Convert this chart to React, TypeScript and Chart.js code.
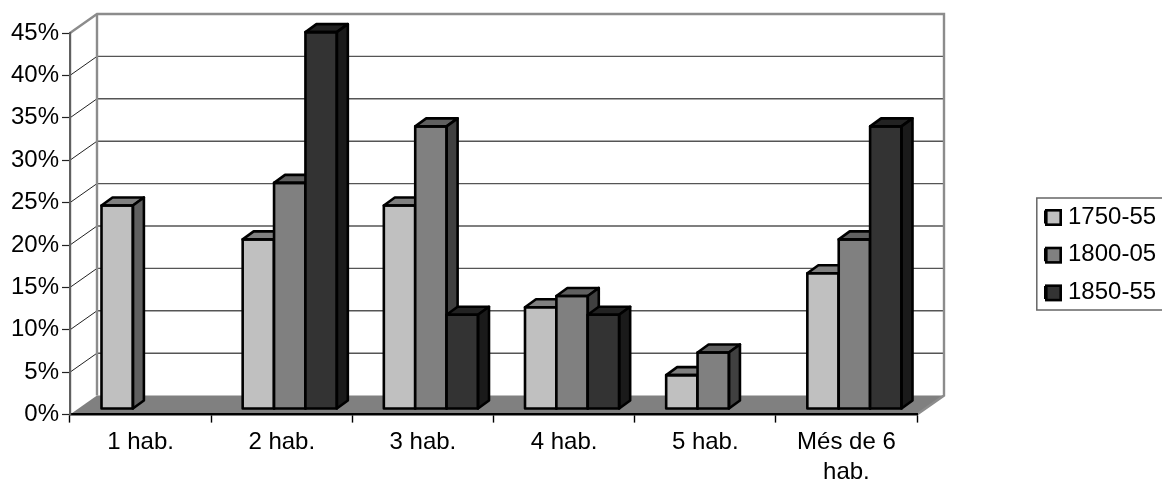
import React, { useEffect, useRef } from "react";
import { Chart, registerables } from "chart.js";

Chart.register(...registerables);

const categories: (string | string[])[] = ["1 hab.", "2 hab.", "3 hab.", "4 hab.", "5 hab.", ["Més de 6", "hab."]];
const series1750 = [24, 20, 24, 12, 4, 16];
const series1800 = [null, 26.67, 33.33, 13.33, 6.67, 20];
const series1850 = [null, 44.44, 11.11, 11.11, null, 33.33];
const yTicks = [0, 5, 10, 15, 20, 25, 30, 35, 40, 45];

const FONT = "'Liberation Sans', Arial, sans-serif";
const FRONT = ["#C0C0C0", "#808080", "#333333"];
const TOP = ["#808080", "#606060", "#222222"];
const SIDE = ["#606060", "#404040", "#1A1A1A"];
const WALL = { dx: 27, dy: -19 };
const BAR_SHIFT = { dx: 8, dy: -5.6 };
const BAR_DEPTH = { dx: 11, dy: -8 };
const OUTLINE = 2.6;

function line(ctx: CanvasRenderingContext2D, pts: number[][], color: string, width: number) {
  ctx.beginPath();
  pts.forEach(([x, y], i) => (i ? ctx.lineTo(x, y) : ctx.moveTo(x, y)));
  ctx.strokeStyle = color;
  ctx.lineWidth = width;
  ctx.stroke();
}

function poly(ctx: CanvasRenderingContext2D, pts: number[][], fill: string) {
  ctx.beginPath();
  pts.forEach(([x, y], i) => (i ? ctx.lineTo(x, y) : ctx.moveTo(x, y)));
  ctx.closePath();
  ctx.fillStyle = fill;
  ctx.fill();
  ctx.strokeStyle = "#000";
  ctx.lineWidth = OUTLINE;
  ctx.lineJoin = "round";
  ctx.stroke();
}

const scene3d = {
  id: "scene3d",
  afterLayout(chart: any) {
    const l = chart.legend;
    l.left = 1031.3;
    l.right = 1160;
    l.top = 191.3;
    l.bottom = 345;
  },
  beforeDraw(chart: any) {
    const { ctx, chartArea: a, scales } = chart;
    const y = scales.y;
    const { dx, dy } = WALL;
    ctx.save();
    ctx.fillStyle = "#fff";
    ctx.fillRect(0, 0, chart.width, chart.height);
    // floor
    ctx.beginPath();
    ctx.moveTo(a.left, a.bottom);
    ctx.lineTo(a.right, a.bottom);
    ctx.lineTo(a.right + dx, a.bottom + dy);
    ctx.lineTo(a.left + dx, a.bottom + dy);
    ctx.closePath();
    ctx.fillStyle = "#808080";
    ctx.fill();
    // grid on left and back walls
    yTicks.slice(1, -1).forEach((v) => {
      const p = y.getPixelForValue(v);
      line(ctx, [[a.left, p], [a.left + dx, p + dy]], "#222", 1);
      line(ctx, [[a.left + dx, p + dy], [a.right + dx, p + dy]], "#555", 1.4);
    });
    // wall frame
    line(ctx, [[a.left, a.top], [a.left + dx, a.top + dy], [a.right + dx, a.top + dy], [a.right + dx, a.bottom + dy], [a.right, a.bottom]], "#8c8c8c", 2.4);
    line(ctx, [[a.left + dx, a.top + dy], [a.left + dx, a.bottom + dy]], "#8c8c8c", 2.4);
    ctx.restore();
  },
  // Series are painted left to right so that each bar covers its left neighbour's side face.
  beforeDatasetDraw() {
    return false;
  },
  beforeDatasetsDraw(chart: any) {
    const ctx = chart.ctx;
    const { dx, dy } = BAR_DEPTH;
    chart.data.datasets.forEach((ds: any, i: number) => {
      const meta = chart.getDatasetMeta(i);
      ctx.save();
      ctx.translate(BAR_SHIFT.dx, BAR_SHIFT.dy);
      meta.controller.draw();
      meta.data.forEach((el: any, n: number) => {
        if (ds.data[n] == null) return;
        const { x, y, base, width } = el.getProps(["x", "y", "base", "width"], true);
        const l = x - width / 2;
        const r = x + width / 2;
        poly(ctx, [[l, y], [l + dx, y + dy], [r + dx, y + dy], [r, y]], TOP[i]);
        poly(ctx, [[r, y], [r + dx, y + dy], [r + dx, base + dy], [r, base]], SIDE[i]);
        ctx.strokeStyle = "#000";
        ctx.lineWidth = OUTLINE;
        ctx.lineJoin = "round";
        ctx.strokeRect(l, y, width, base - y);
      });
      ctx.restore();
    });
  },
  afterDraw(chart: any) {
    const ctx = chart.ctx;
    ctx.save();
    ctx.strokeStyle = "#666";
    ctx.lineWidth = 1.5;
    ctx.strokeRect(1036.8, 198, 130, 112);
    chart.data.datasets.forEach((_: any, i: number) => {
      const cy = 217.5 + i * 37.7;
      ctx.fillStyle = FRONT[i];
      ctx.fillRect(1046.3, cy - 7.2, 14.4, 14.4);
      ctx.strokeStyle = "#000";
      ctx.lineWidth = OUTLINE;
      ctx.strokeRect(1046.3, cy - 7.2, 14.4, 14.4);
    });
    ctx.restore();
  },
};

export default function App() {
  const ref = useRef<HTMLCanvasElement>(null);
  useEffect(() => {
    const chart = new Chart(ref.current as HTMLCanvasElement, {
      type: "bar",
      data: {
        labels: categories as any,
        datasets: [
          { label: "1750-55", data: series1750, backgroundColor: FRONT[0] },
          { label: "1800-05", data: series1800, backgroundColor: FRONT[1] },
          { label: "1850-55", data: series1850, backgroundColor: FRONT[2] },
        ] as any,
      },
      plugins: [scene3d],
      options: {
        animation: false,
        responsive: false,
        layout: { padding: { top: 33, right: 245, left: 0, bottom: 0 } },
        categoryPercentage: 0.667,
        barPercentage: 1,
        borderWidth: 0,
        scales: {
          x: {
            offset: true,
            afterFit: (s: any) => { s.height = 69.4; },
            grid: { offset: true, drawOnChartArea: false, drawTicks: true, tickLength: 8, tickColor: "#000", tickWidth: 1.4 },
            border: { color: "#000", width: 2.4 },
            ticks: { color: "#000", font: { family: FONT, size: 24, lineHeight: 1.25 }, maxRotation: 0, autoSkip: false, padding: 5 },
          },
          y: {
            min: 0,
            max: 45,
            afterFit: (s: any) => { s.width = 70; },
            afterBuildTicks: (s: any) => { s.ticks = yTicks.map((value) => ({ value })); },
            grid: { drawOnChartArea: false, drawTicks: true, tickLength: 8, tickColor: "#222", tickWidth: 1.2 },
            border: { color: "#606060", width: 2.2 },
            ticks: { color: "#000", font: { family: FONT, size: 24 }, padding: 3, callback: (v: any) => `${v}%` },
          },
        },
        plugins: {
          title: { display: false },
          tooltip: { enabled: false },
          legend: {
            position: "chartArea",
            align: "start",
            labels: {
              boxWidth: 11,
              boxHeight: 11,
              padding: 13.7,
              color: "#000",
              font: { family: FONT, size: 24 },
              generateLabels: (c: any) =>
                c.data.datasets.map((d: any, i: number) => ({
                  text: d.label,
                  fillStyle: FRONT[i],
                  strokeStyle: "#000",
                  lineWidth: 2,
                  datasetIndex: i,
                })),
            },
          },
        },
      } as any,
    });
    return () => chart.destroy();
  }, []);
  return (
    <canvas
      ref={ref}
      width={1162}
      height={484}
      style={{ position: "absolute", left: 0, top: 0, width: 1162, height: 484, display: "block" }}
    />
  );
}
